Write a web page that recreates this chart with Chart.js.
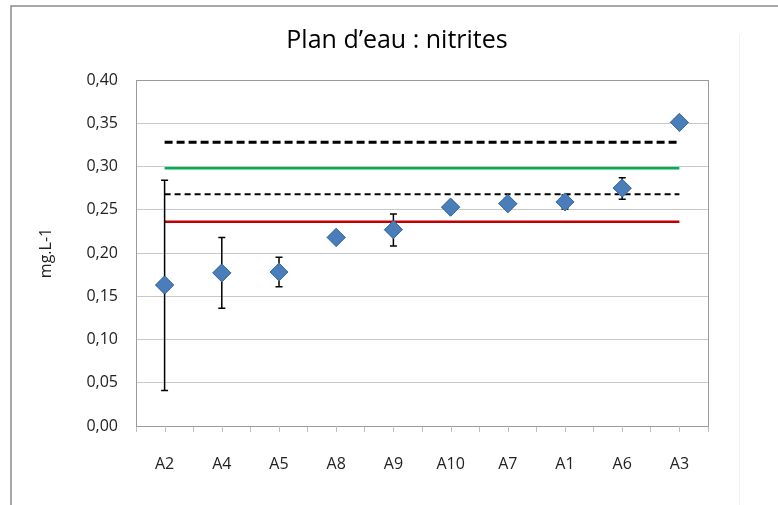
<!DOCTYPE html>
<html>
<head>
<meta charset="utf-8">
<script src="https://cdn.jsdelivr.net/npm/chart.js"></script>
<style>
  html, body { margin: 0; padding: 0; background: #fff; }
  #wrap { width: 778px; height: 505px; }
</style>
</head>
<body>
<div id="wrap"><canvas id="canvas" width="778" height="505"></canvas></div>
<script>
// data
var stations = ["A2", "A4", "A5", "A8", "A9", "A10", "A7", "A1", "A6", "A3"];
var nitrites = [0.163, 0.177, 0.178, 0.218, 0.227, 0.253, 0.257, 0.259, 0.275, 0.351];
var errHigh = [0.284, 0.218, 0.195, null, 0.245, null, 0.261, 0.267, 0.287, null];
var errLow = [0.041, 0.136, 0.161, null, 0.208, null, 0.253, 0.251, 0.262, null];
var yTicks = [0, 0.05, 0.10, 0.15, 0.20, 0.25, 0.30, 0.35, 0.40];

// horizontal reference levels
var seuilHautDash = 0.328;
var seuilVert = 0.298;
var seuilBasDash = 0.268;
var seuilRouge = 0.236;

function flat(v) {
    return stations.map(function () { return v; });
}

var fontFam = "'Open Sans', 'Noto Sans', sans-serif";

// outer frame + plot border + half-step ticks on x axis
var framePlugin = {
    id: 'frame',
    beforeDraw: function (chart) {
        var ctx = chart.ctx;
        ctx.save();
        ctx.fillStyle = '#fff';
        ctx.fillRect(0, 0, chart.width, chart.height);
        ctx.strokeStyle = '#8c8c8c';
        ctx.lineWidth = 1.5;
        ctx.beginPath();
        ctx.moveTo(11, chart.height + 2);
        ctx.lineTo(11, 6);
        ctx.lineTo(chart.width + 2, 6);
        ctx.stroke();
        ctx.strokeStyle = '#f0f0f0';
        ctx.lineWidth = 1;
        ctx.beginPath();
        ctx.moveTo(739.5, 35);
        ctx.lineTo(739.5, chart.height);
        ctx.stroke();
        ctx.restore();
    },
    afterDraw: function (chart) {
        var a = chart.chartArea, ctx = chart.ctx, x = chart.scales.x;
        ctx.save();
        ctx.strokeStyle = '#9a9a9a';
        ctx.lineWidth = 1;
        ctx.strokeRect(Math.round(a.left) + 0.5, Math.round(a.top) + 0.5,
            Math.round(a.right - a.left), Math.round(a.bottom - a.top));
        ctx.strokeStyle = '#bfbfbf';
        ctx.beginPath();
        for (var i = 0; i < stations.length; i++) {
            var px = Math.round(x.getPixelForValue(i)) + 0.5;
            ctx.moveTo(px, a.bottom);
            ctx.lineTo(px, a.bottom + 6);
        }
        ctx.stroke();
        ctx.restore();
    }
};

// error bars, then markers redrawn on top
var errorBarPlugin = {
    id: 'errorBars',
    afterDatasetsDraw: function (chart) {
        var ctx = chart.ctx, x = chart.scales.x, y = chart.scales.y;
        ctx.save();
        ctx.strokeStyle = '#000';
        ctx.lineWidth = 1.5;
        for (var i = 0; i < stations.length; i++) {
            if (errHigh[i] == null) continue;
            var px = x.getPixelForValue(i);
            var yt = y.getPixelForValue(errHigh[i]);
            var yb = y.getPixelForValue(errLow[i]);
            ctx.beginPath();
            ctx.moveTo(px, yt); ctx.lineTo(px, yb);
            ctx.moveTo(px - 3.5, yt); ctx.lineTo(px + 3.5, yt);
            ctx.moveTo(px - 3.5, yb); ctx.lineTo(px + 3.5, yb);
            ctx.stroke();
        }
        ctx.restore();
        var meta = chart.getDatasetMeta(0);
        meta.data.forEach(function (pt) { pt.draw(ctx, chart.chartArea); });
    }
};

var canvasElement = document.getElementById('canvas');
var config = {
    type: 'line',
    data: {
        labels: stations,
        datasets: [{
            label: 'Nitrites',
            data: nitrites,
            showLine: false,
            pointStyle: 'rectRot',
            pointRadius: 9,
            pointBackgroundColor: '#4a7ebb',
            pointBorderColor: '#3d6ea8',
            pointBorderWidth: 1,
            order: 0
        },
        {
            label: 'haut',
            data: flat(seuilHautDash),
            borderColor: '#000',
            borderWidth: 3,
            borderDash: [8, 4],
            pointRadius: 0,
            order: 1
        },
        {
            label: 'vert',
            data: flat(seuilVert),
            borderColor: '#00b050',
            borderWidth: 2.5,
            pointRadius: 0,
            order: 1
        },
        {
            label: 'bas',
            data: flat(seuilBasDash),
            borderColor: '#000',
            borderWidth: 2,
            borderDash: [6, 4],
            pointRadius: 0,
            order: 1
        },
        {
            label: 'rouge',
            data: flat(seuilRouge),
            borderColor: '#c00000',
            borderWidth: 2.5,
            pointRadius: 0,
            order: 1
        }]
    },
    options: {
        responsive: false,
        animation: false,
        layout: { padding: { left: 16, right: 0, top: 0, bottom: 0 } },
        plugins: {
            legend: { display: false },
            tooltip: { enabled: false },
            title: {
                display: true,
                text: 'Plan d’eau : nitrites',
                color: '#000',
                font: { family: fontFam, size: 25, weight: 'normal' },
                padding: { top: 26, bottom: 24 }
            }
        },
        scales: {
            x: {
                offset: true,
                grid: {
                    offset: true,
                    drawOnChartArea: false,
                    drawTicks: true,
                    tickLength: 6,
                    color: '#bfbfbf'
                },
                border: { display: false },
                ticks: {
                    color: '#222',
                    padding: 23,
                    maxRotation: 0,
                    font: { family: fontFam, size: 16 }
                },
                afterFit: function (scale) { scale.height = 79; }
            },
            y: {
                min: 0,
                max: 0.40,
                afterBuildTicks: function (scale) {
                    scale.ticks = yTicks.map(function (v) { return { value: v }; });
                },
                grid: { color: '#c8c8c8', drawTicks: false },
                border: { display: false },
                ticks: {
                    color: '#222',
                    padding: 18,
                    font: { family: fontFam, size: 16 },
                    callback: function (v) { return v.toFixed(2).replace('.', ','); }
                },
                title: {
                    display: true,
                    text: 'mg.L-1',
                    color: '#222',
                    padding: { top: 21, bottom: 0 },
                    font: { family: fontFam, size: 16 }
                },
                afterFit: function (scale) { scale.width = 120; }
            },
            // empty spacer on the right so the title centres like the original
            yRight: {
                position: 'right',
                min: 0,
                max: 1,
                grid: { display: false },
                border: { display: false },
                ticks: { display: false },
                afterFit: function (scale) { scale.width = 70; }
            }
        }
    },
    plugins: [framePlugin, errorBarPlugin]
};

var nitriteChart = new Chart(canvasElement, config);
</script>
</body>
</html>
